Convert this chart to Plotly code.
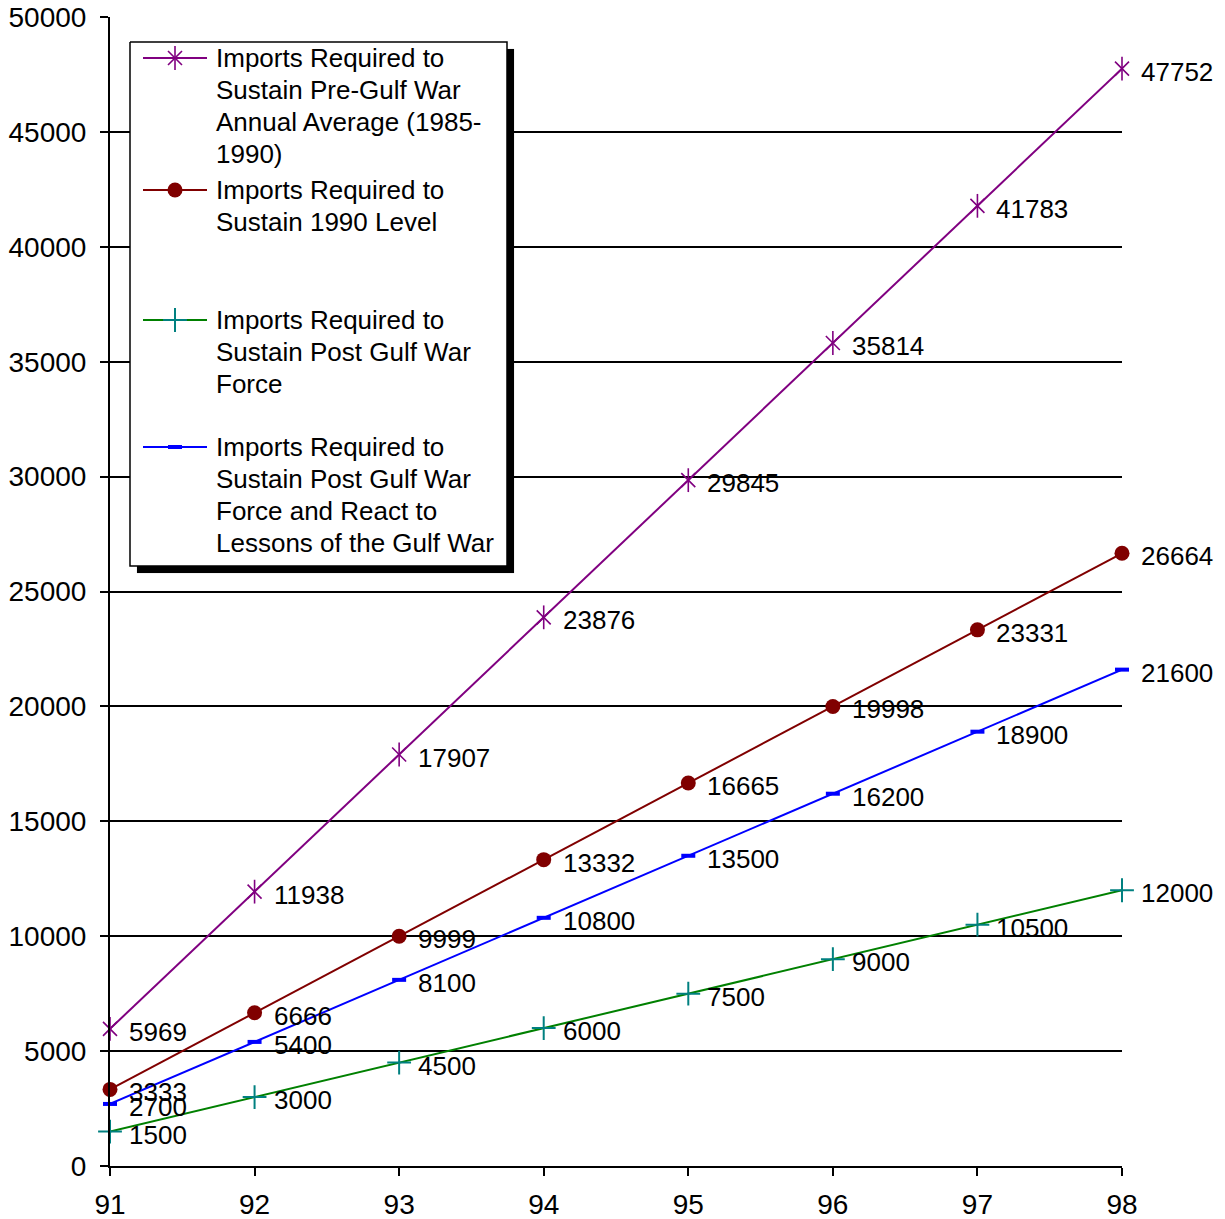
import plotly.graph_objects as go

# Fiscal years on the x axis
years = [91, 92, 93, 94, 95, 96, 97, 98]

# Import requirements per scenario
pre_gulf_avg = [5969, 11938, 17907, 23876, 29845, 35814, 41783, 47752]
level_1990 = [3333, 6666, 9999, 13332, 16665, 19998, 23331, 26664]
post_war_force = [1500, 3000, 4500, 6000, 7500, 9000, 10500, 12000]
post_war_lessons = [2700, 5400, 8100, 10800, 13500, 16200, 18900, 21600]

y_ticks = [0, 5000, 10000, 15000, 20000, 25000, 30000, 35000, 40000, 45000, 50000]

# Legend text, one list entry per wrapped line
series_names = [
    ["Imports Required to", "Sustain Pre-Gulf War", "Annual Average (1985-", "1990)"],
    ["Imports Required to", "Sustain 1990 Level"],
    ["Imports Required to", "Sustain Post Gulf War", "Force"],
    ["Imports Required to", "Sustain Post Gulf War", "Force and React to", "Lessons of the Gulf War"],
]

FONT = "Liberation Sans, Arial, sans-serif"

# Six-armed star for the first series: an X plus a vertical stroke
STAR_STROKE = dict(symbol="line-ns-open", size=17, color="#800080", line=dict(color="#800080", width=1.6))

styles = [
    dict(values=pre_gulf_avg, line="#800080",
         marker=dict(symbol="x-thin-open", size=14, color="#800080", line=dict(color="#800080", width=1.6)),
         extra=STAR_STROKE),
    dict(values=level_1990, line="#800000",
         marker=dict(symbol="circle", size=15, color="#800000", line=dict(color="#800000", width=0)),
         extra=None),
    dict(values=post_war_force, line="#008000",
         marker=dict(symbol="cross-thin-open", size=17, color="#008080", line=dict(color="#008080", width=2)),
         extra=None),
    dict(values=post_war_lessons, line="#0000FF",
         marker=dict(symbol="line-ew-open", size=10, color="#0000FF", line=dict(color="#0000FF", width=4)),
         extra=None),
]

fig = go.Figure()

for lines, st in zip(series_names, styles):
    fig.add_trace(go.Scatter(
        x=years, y=st["values"], mode="lines+markers", name=" ".join(lines),
        line=dict(color=st["line"], width=2), marker=st["marker"],
        showlegend=False, cliponaxis=False,
    ))
    if st["extra"]:
        fig.add_trace(go.Scatter(
            x=years, y=st["values"], mode="markers", marker=st["extra"],
            showlegend=False, hoverinfo="skip", cliponaxis=False,
        ))

# Value labels beside every point
annotations = []
for st in styles:
    for x, v in zip(years, st["values"]):
        annotations.append(dict(
            x=x, y=v, xref="x", yref="y", text=str(v), showarrow=False,
            xanchor="left", yanchor="middle", xshift=17, yshift=-3,
            font=dict(family=FONT, size=26, color="black"),
        ))

# Boxed legend drawn in pixel space on an overlay axis pair
L_LEFT, L_TOP, L_RIGHT, L_BOTTOM = 130, 42, 507, 566
SHADOW = 7
entry_rows = [58, 190, 320, 447]
LINE_STEP = 32
sym_x0, sym_x1, text_x = 143, 207, 215


def rect_trace(x0, y0, x1, y1, fill, border_w):
    return go.Scatter(
        x=[x0, x1, x1, x0, x0], y=[y0, y0, y1, y1, y0], mode="lines",
        xaxis="x2", yaxis="y2", fill="toself", fillcolor=fill,
        line=dict(color="black", width=border_w), showlegend=False,
        hoverinfo="skip", cliponaxis=False,
    )


fig.add_trace(rect_trace(L_LEFT + SHADOW, L_TOP + SHADOW, L_RIGHT + SHADOW, L_BOTTOM + SHADOW, "black", 0.1))
fig.add_trace(rect_trace(L_LEFT, L_TOP, L_RIGHT, L_BOTTOM, "white", 1.5))

for lines, st, row in zip(series_names, styles, entry_rows):
    fig.add_trace(go.Scatter(
        x=[sym_x0, sym_x1], y=[row, row], mode="lines", xaxis="x2", yaxis="y2",
        line=dict(color=st["line"], width=2), showlegend=False, hoverinfo="skip",
        cliponaxis=False,
    ))
    for mk in [st["marker"], st["extra"]]:
        if mk:
            fig.add_trace(go.Scatter(
                x=[(sym_x0 + sym_x1) / 2], y=[row], mode="markers", xaxis="x2", yaxis="y2",
                marker=mk, showlegend=False, hoverinfo="skip", cliponaxis=False,
            ))
    for i, txt in enumerate(lines):
        annotations.append(dict(
            x=text_x, y=row + i * LINE_STEP, xref="x2", yref="y2", text=txt,
            showarrow=False, xanchor="left", yanchor="middle", borderpad=0,
            font=dict(family=FONT, size=26, color="black"),
        ))

fig.update_layout(
    width=1225, height=1219,
    margin=dict(l=110, r=103, t=17, b=53),
    paper_bgcolor="white", plot_bgcolor="white",
    font=dict(family=FONT, size=26, color="black"),
    xaxis=dict(
        range=[91, 98], tickvals=years, ticktext=[str(y) for y in years],
        showgrid=False, zeroline=False, showline=True, linecolor="black", linewidth=2,
        ticks="outside", ticklen=8, tickwidth=2, tickcolor="black",
        ticklabelstandoff=4, automargin=False,
        tickfont=dict(family=FONT, size=28, color="black"),
    ),
    yaxis=dict(
        range=[0, 50000], tickvals=y_ticks, ticktext=[str(t) for t in y_ticks],
        showgrid=True, gridcolor="black", gridwidth=2, zeroline=False,
        showline=True, linecolor="black", linewidth=2,
        ticks="outside", ticklen=8, tickwidth=2, tickcolor="black",
        ticklabelstandoff=8, automargin=False,
        tickfont=dict(family=FONT, size=28, color="black"),
    ),
    xaxis2=dict(overlaying="x", range=[110, 1122], visible=False, fixedrange=True),
    yaxis2=dict(overlaying="y", range=[1166, 17], visible=False, fixedrange=True),
    annotations=annotations,
)

fig.write_html("out.html")
